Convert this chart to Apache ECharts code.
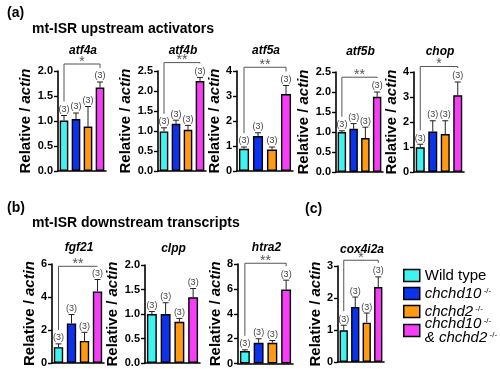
<!DOCTYPE html>
<html>
<head>
<meta charset="utf-8">
<script src="https://cdn.jsdelivr.net/npm/echarts@6/dist/echarts.min.js"></script>
<style>
html,body{margin:0;padding:0;background:#fff;}
#chart{width:500px;height:369px;}
</style>
</head>
<body>
<div id="chart"></div>
<script>
// ---------- data ----------
const genes = ['atf4a', 'atf4b', 'atf5a', 'atf5b', 'chop', 'fgf21', 'clpp', 'htra2', 'cox4i2a'];
const groups = ['Wild type', 'chchd10', 'chchd2', 'chchd10 & chchd2'];
const wildType     = [1.01, 0.99, 0.89, 1.00, 0.99, 0.96, 1.00, 1.00, 0.99];
const wildTypeErr  = [0.10, 0.09, 0.07, 0.03, 0.12, 0.20, 0.05, 0.10, 0.16];
const chchd10      = [1.04, 1.18, 1.40, 1.08, 1.62, 2.40, 1.00, 1.67, 1.72];
const chchd10Err   = [0.12, 0.09, 0.13, 0.13, 0.43, 0.54, 0.23, 0.32, 0.31];
const chchd2       = [0.89, 1.03, 0.86, 0.85, 1.52, 1.34, 0.84, 1.67, 1.23];
const chchd2Err    = [0.40, 0.11, 0.10, 0.27, 0.53, 0.52, 0.07, 0.18, 0.30];
const doubleKO     = [1.67, 2.25, 3.08, 1.88, 3.07, 4.34, 1.34, 5.95, 2.34];
const doubleKOErr  = [0.11, 0.09, 0.34, 0.12, 0.53, 0.72, 0.18, 0.75, 0.32];
const nLabels      = ['(3)', '(3)', '(3)', '(3)'];
const yMax         = [2, 2.5, 4, 2.5, 4, 6, 2, 8, 3];
const yStep        = [0.5, 0.5, 1, 0.5, 1, 2, 0.5, 2, 1];
const yDecimals    = [1, 1, 0, 1, 0, 0, 1, 0, 0];
const sigMarks     = ['*', '**', '**', '**', '*', '**', '', '**', '*'];
const bracketTop   = [2.14, 2.71, 4.15, 2.37, 4.22, 5.86, null, 8.06, 3.18];
const headings     = ['(a)', 'mt-ISR upstream activators', '(b)', 'mt-ISR downstream transcripts', '(c)'];

// ---------- layout / style ----------
const FONT = '"Liberation Sans", Arial, Helvetica, sans-serif';
const colors = ['#3DF4F2', '#0B33EE', '#FF9A12', '#F53EF5'];
const gridLeft  = [58, 158, 237, 336, 414, 52, 145, 238, 338];
const gridWidth = [48, 48, 56, 47, 50, 52, 55, 55, 46];
const gridTop   = [71, 71, 71, 72, 72, 264, 265, 264, 266];
const gridH     = [100, 100, 100, 100, 100, 99, 98, 100, 96];
const nameGaps  = [22, 24, 13, 21, 13, 14, 20, 13, 13];

const seriesVals = [wildType, chchd10, chchd2, doubleKO];
const seriesErrs = [wildTypeErr, chchd10Err, chchd2Err, doubleKOErr];

const grids = [], xAxes = [], yAxes = [], series = [], titles = [];

genes.forEach((g, i) => {
  grids.push({left: gridLeft[i], top: gridTop[i], width: gridWidth[i], height: gridH[i], containLabel: false});
  xAxes.push({
    type: 'category', gridIndex: i, data: groups,
    axisLine: {show: true, lineStyle: {color: '#000', width: 1.6}},
    axisTick: {show: false}, axisLabel: {show: false}
  });
  yAxes.push({
    type: 'value', gridIndex: i, min: 0, max: yMax[i], interval: yStep[i],
    axisLine: {show: true, lineStyle: {color: '#000', width: 1.6}},
    axisTick: {show: true, length: 4, lineStyle: {color: '#000', width: 1.4}},
    splitLine: {show: false},
    axisLabel: {
      fontFamily: FONT, fontWeight: 'bold', fontSize: 11, color: '#000', margin: 5,
      formatter: v => v.toFixed(yDecimals[i])
    },
    name: '{a|Relative / }{b|actin}',
    nameLocation: 'middle', nameRotate: 90, nameGap: nameGaps[i],
    nameTextStyle: {
      rich: {
        a: {fontFamily: FONT, fontWeight: 'bold', fontSize: 15, color: '#000'},
        b: {fontFamily: FONT, fontWeight: 'bold', fontStyle: 'italic', fontSize: 15, color: '#000'}
      }
    }
  });
  titles.push({
    text: g, left: gridLeft[i] + gridWidth[i] / 2 - 4, top: gridTop[i] - (i < 5 ? 31 : 27), textAlign: 'center',
    textStyle: {fontFamily: FONT, fontWeight: 'bold', fontStyle: 'italic', fontSize: 12, color: '#000'}
  });
  // bars
  groups.forEach((name, k) => {
    const d = groups.map((_, j) => (j === k ? seriesVals[k][i] : '-'));
    series.push({
      type: 'bar', name: name, xAxisIndex: i, yAxisIndex: i, data: d,
      barGap: '-100%', barWidth: '72%',
      itemStyle: {color: colors[k], borderColor: '#000', borderWidth: 1.4},
      emphasis: {disabled: true}, silent: true, animation: false
    });
  });
  // error bars + n labels
  series.push({
    type: 'custom', xAxisIndex: i, yAxisIndex: i, silent: true, animation: false, clip: false,
    data: groups.map((_, k) => [k, seriesVals[k][i], seriesErrs[k][i]]),
    encode: {x: 0, y: 1},
    renderItem: (params, api) => {
      const x = api.value(0), v = api.value(1), e = api.value(2);
      const p0 = api.coord([x, v]);
      const p1 = api.coord([x, v + e]);
      return {
        type: 'group',
        children: [
          {type: 'line', shape: {x1: p0[0], y1: p0[1], x2: p1[0], y2: p1[1]}, style: {stroke: '#222', lineWidth: 1}},
          {type: 'line', shape: {x1: p1[0] - 3, y1: p1[1], x2: p1[0] + 3, y2: p1[1]}, style: {stroke: '#222', lineWidth: 1}},
          {type: 'text', x: p1[0], y: p1[1] - 1.5,
           style: {text: nLabels[x], fill: '#444', font: '9px ' + FONT, align: 'center', verticalAlign: 'bottom'}}
        ]
      };
    }
  });
  // significance bracket
  if (sigMarks[i]) {
    series.push({
      type: 'custom', xAxisIndex: i, yAxisIndex: i, silent: true, animation: false, clip: false,
      data: [[0, bracketTop[i], wildType[i] + wildTypeErr[i], doubleKO[i] + doubleKOErr[i]]],
      encode: {x: 0, y: 1},
      renderItem: (params, api) => {
        const top = api.coord([0, api.value(1)]);
        const l = api.coord([0, api.value(2)]);
        const r = api.coord([3, api.value(3)]);
        const ly = Math.max(top[1], l[1] - 14);
        const ry = Math.max(top[1], r[1] - 14);
        return {
          type: 'group',
          children: [
            {type: 'polyline', shape: {points: [[l[0], ly], [l[0], top[1]], [r[0], top[1]], [r[0], ry]]},
             style: {stroke: '#555', lineWidth: 1, fill: null}},
            {type: 'text', x: (l[0] + r[0]) / 2, y: top[1] + 5,
             style: {text: sigMarks[i], fill: '#555', font: '14px ' + FONT, align: 'center', verticalAlign: 'bottom'}}
          ]
        };
      }
    });
  }
});

// headings
const headStyle = {fontFamily: FONT, fontWeight: 'bold', fontSize: 14, color: '#000'};
titles.push({text: headings[0], left: 2, top: 1, textStyle: headStyle});
titles.push({text: headings[1], left: 27, top: 17, textStyle: headStyle});
titles.push({text: headings[2], left: 2, top: 196, textStyle: headStyle});
titles.push({text: headings[3], left: 27, top: 211, textStyle: headStyle});
titles.push({text: headings[4], left: 300, top: 197, textStyle: headStyle});

const legendText = {
  'Wild type': '{t|Wild type}',
  'chchd10': '{i|chchd10}{s| -/-}',
  'chchd2': '{i|chchd2}{s| -/-}',
  'chchd10 & chchd2': '{i|chchd10}{s| -/-}\n{i|& chchd2}{s| -/-}'
};
const legendRich = {
  t: {fontFamily: FONT, fontSize: 15, color: '#000', lineHeight: 14},
  i: {fontFamily: FONT, fontSize: 15, fontStyle: 'italic', color: '#000', lineHeight: 14},
  s: {fontFamily: FONT, fontSize: 8, color: '#000', verticalAlign: 'top', lineHeight: 14}
};
const legendBase = {
  orient: 'vertical', left: 403, padding: 0,
  itemWidth: 16, itemHeight: 12, itemGap: 3, icon: 'rect',
  selectedMode: false,
  itemStyle: {borderColor: '#000', borderWidth: 1.5},
  formatter: n => legendText[n],
  textStyle: {rich: legendRich}
};

const chart = echarts.init(document.getElementById('chart'), null, {renderer: 'canvas'});
chart.setOption({
  animation: false,
  backgroundColor: '#fff',
  title: titles,
  grid: grids,
  xAxis: xAxes,
  yAxis: yAxes,
  legend: [
    Object.assign({}, legendBase, {data: groups.slice(0, 3), top: 268}),
    Object.assign({}, legendBase, {data: groups.slice(3), top: 316})
  ],
  series: series
});
</script>
</body>
</html>
